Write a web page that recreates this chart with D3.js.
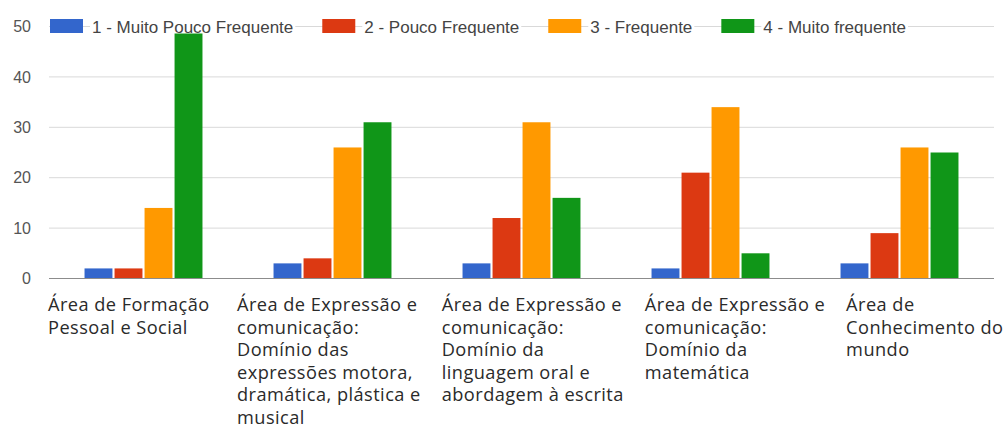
<!DOCTYPE html>
<html>
<head>
<meta charset="utf-8">
<script src="https://cdn.jsdelivr.net/npm/d3@7"></script>
<style>
  html, body { margin: 0; padding: 0; background: #fff; }
  svg { display: block; }
</style>
</head>
<body>
<svg id="chart" width="1006" height="430"></svg>
<script>
// ---- data ----
const categories = [
  "Área de Formação\nPessoal e Social",
  "Área de Expressão e\ncomunicação:\nDomínio das\nexpressões motora,\ndramática, plástica e\nmusical",
  "Área de Expressão e\ncomunicação:\nDomínio da\nlinguagem oral e\nabordagem à escrita",
  "Área de Expressão e\ncomunicação:\nDomínio da\nmatemática",
  "Área de\nConhecimento do\nmundo"
];
const seriesNames = [
  "1 - Muito Pouco Frequente",
  "2 - Pouco Frequente",
  "3 - Frequente",
  "4 - Muito frequente"
];
const muitoPoucoFrequente = [2, 3, 3, 2, 3];
const poucoFrequente      = [2, 4, 12, 21, 9];
const frequente           = [14, 26, 31, 34, 26];
const muitoFrequente      = [49, 31, 16, 5, 25];
const yTicks = [0, 10, 20, 30, 40, 50];
const colors = ["#3366cc", "#dc3912", "#ff9900", "#109618"];

const seriesValues = [muitoPoucoFrequente, poucoFrequente, frequente, muitoFrequente];

(function () {
// ---- layout ----
const svg = d3.select("#chart");
const pLeft = 49, pRight = 994, pTop = 26.5, pBottom = 278.5;

const x0 = d3.scaleBand().domain(d3.range(categories.length))
  .range([pLeft, pRight]).paddingInner(0.376).paddingOuter(0.188);
const x1 = d3.scaleBand().domain(d3.range(seriesNames.length))
  .range([0, x0.bandwidth()]).paddingInner(0.07);
const y = d3.scaleLinear().domain([0, 50]).range([pBottom, pTop]);
const slotStart = i => x0(i) - (x0.step() - x0.bandwidth()) / 2;

// gridlines
svg.append("g").selectAll("line").data(yTicks.filter(d => d !== 0)).join("line")
  .attr("x1", pLeft).attr("x2", pRight)
  .attr("y1", d => y(d)).attr("y2", d => y(d))
  .attr("stroke", "#d9d9d9").attr("stroke-width", 1);

// y tick labels
svg.append("g").selectAll("text").data(yTicks).join("text")
  .attr("x", 31).attr("y", d => y(d))
  .attr("dy", "0.36em")
  .attr("text-anchor", "end")
  .attr("font-family", "Liberation Sans, Arial, sans-serif")
  .attr("font-size", 16)
  .attr("fill", "#555")
  .text(d => d);

// bars
const groups = svg.append("g").selectAll("g").data(categories).join("g")
  .attr("transform", (d, i) => `translate(${x0(i)},0)`);
groups.selectAll("rect")
  .data((d, i) => seriesValues.map((vals, s) => ({ s, v: vals[i] })))
  .join("rect")
  .attr("x", d => x1(d.s))
  .attr("width", x1.bandwidth())
  .attr("y", d => y(d.v))
  .attr("height", d => y(0) - y(d.v))
  .attr("fill", d => colors[d.s]);

// baseline
svg.append("line").attr("x1", pLeft).attr("x2", pRight)
  .attr("y1", y(0)).attr("y2", y(0))
  .attr("stroke", "#8c8c8c").attr("stroke-width", 1.2);

// legend (over the top gridline)
const legend = svg.append("g");
let lx = 50;
const ly = y(50);
seriesNames.forEach((name, i) => {
  const g = legend.append("g");
  g.append("rect").attr("x", lx).attr("y", ly - 7.5).attr("width", 33).attr("height", 14)
    .attr("fill", colors[i]);
  const bg = g.append("rect").attr("fill", "#fff");
  const t = g.append("text")
    .attr("x", lx + 42).attr("y", ly).attr("dy", "0.36em")
    .attr("font-family", "Liberation Sans, Arial, sans-serif")
    .attr("font-size", 17)
    .attr("fill", "#444")
    .text(name);
  const w = t.node().getComputedTextLength();
  bg.attr("x", lx + 40).attr("y", ly - 10).attr("width", w + 4).attr("height", 17);
  lx = lx + 42 + w + 29;
});

// category labels (wrapped, left-aligned, pushed right to avoid overlap)
const labelG = svg.append("g");
let prevRight = -Infinity;
categories.forEach((cat, i) => {
  const lines = cat.split("\n");
  const t = labelG.append("text")
    .attr("font-family", "Open Sans, sans-serif")
    .attr("font-size", 18.2)
    .attr("letter-spacing", 0.45)
    .attr("fill", "#2a2a2a");
  lines.forEach((ln, k) => {
    t.append("tspan").attr("x", 0).attr("y", 311 + k * 22.6).text(ln);
  });
  const w = t.node().getBBox().width;
  const lx0 = Math.max(slotStart(i) - 1, prevRight + 21);
  t.selectAll("tspan").attr("x", lx0);
  prevRight = lx0 + w;
});
})();
</script>
</body>
</html>
